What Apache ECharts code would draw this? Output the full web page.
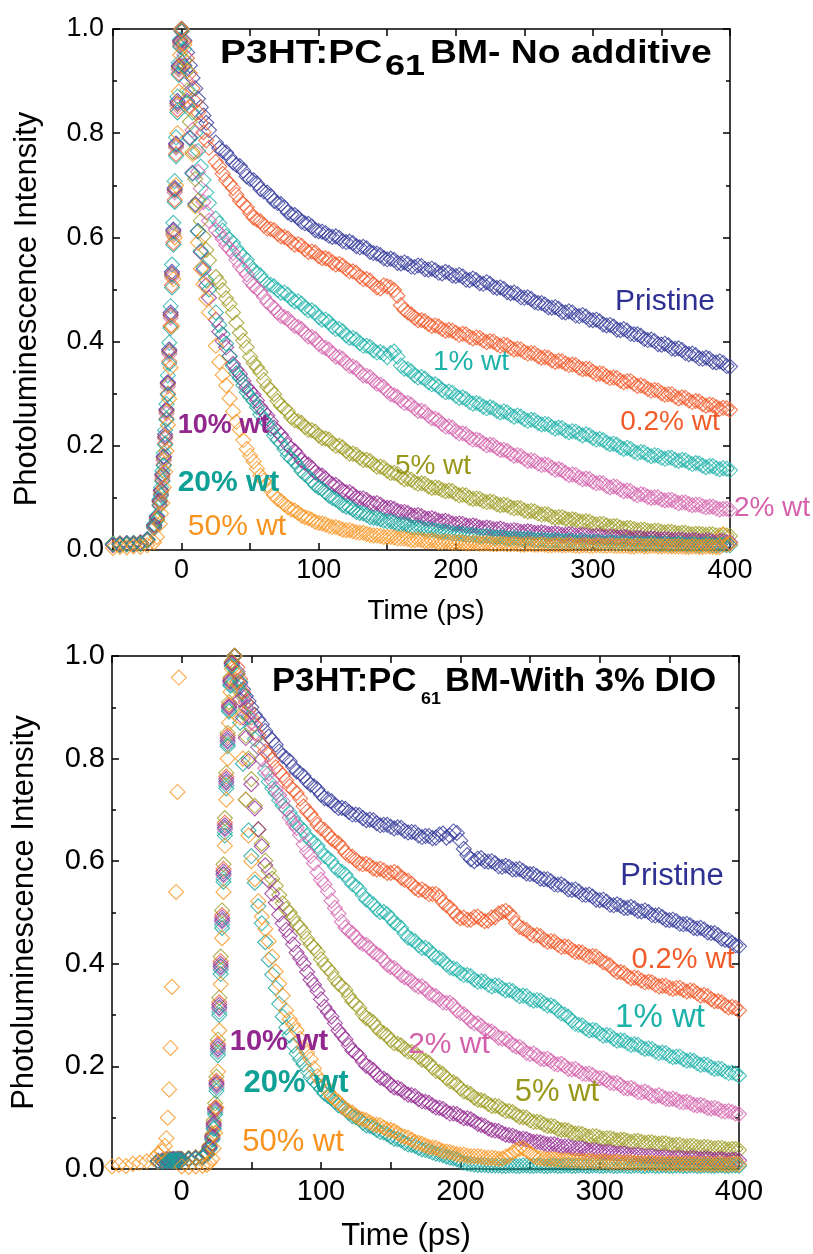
<!DOCTYPE html>
<html>
<head>
<meta charset="utf-8">
<script src="https://cdn.jsdelivr.net/npm/echarts@6.0.0/dist/echarts.min.js"></script>
<style>
  html, body { margin: 0; padding: 0; background: #fff; }
  #chart { width: 813px; height: 1254px; }
</style>
</head>
<body>
<div id="chart"></div>
<script>
// ---- top panel: no additive ----
const topTime = [
  -50,-45,-40,-35,-30,-25,-20,-18,
  -16,-15,-14,-13,-12,-11,-10,-9,-8,-7,-6,-5,-4,-3,-2,-1,0,
  2,4,6,8,10,12,14,16,18,20,
  25,30,35,40,45,50,55,60,65,70,
  75,80,85,90,95,100,105,110,115,120,
  125,130,135,140,145,150,155,160,165,170,
  175,180,185,190,195,200,205,210,215,220,
  225,230,235,240,245,250,255,260,265,270,
  275,280,285,290,295,300,305,310,315,320,
  325,330,335,340,345,350,355,360,365,370,
  375,380,385,390,395,400
];
// in-between samples of the decay tails
const topTimeHalf = [
  27.5,32.5,37.5,42.5,47.5,52.5,57.5,62.5,67.5,72.5,
  77.5,82.5,87.5,92.5,97.5,102.5,107.5,112.5,117.5,122.5,
  127.5,132.5,137.5,142.5,147.5,152.5,157.5,162.5,167.5,172.5,
  177.5,182.5,187.5,192.5,197.5,202.5,207.5,212.5,217.5,222.5,
  227.5,232.5,237.5,242.5,247.5,252.5,257.5,262.5,267.5,272.5,
  277.5,282.5,287.5,292.5,297.5,302.5,307.5,312.5,317.5,322.5,
  327.5,332.5,337.5,342.5,347.5,352.5,357.5,362.5,367.5,372.5,
  377.5,382.5,387.5,392.5,397.5
];
const topPristine = [
  0.012,0.010,0.013,0.011,0.014,0.020,0.048,0.064,
  0.095,0.115,0.146,0.180,0.222,0.270,0.322,0.385,0.456,0.534,0.615,0.695,0.780,0.862,0.930,0.978,1.000,
  0.978,0.955,0.930,0.906,0.886,0.866,0.850,0.834,0.820,0.806,
  0.782,0.766,0.754,0.739,0.728,0.712,0.703,0.688,0.679,0.666,
  0.657,0.644,0.638,0.627,0.621,0.612,0.608,0.601,0.599,0.591,
  0.589,0.581,0.579,0.570,0.566,0.558,0.557,0.550,0.549,0.543,
  0.545,0.538,0.537,0.531,0.532,0.526,0.525,0.518,0.518,0.511,
  0.511,0.503,0.501,0.493,0.491,0.484,0.482,0.474,0.471,0.465,
  0.463,0.456,0.456,0.449,0.448,0.441,0.439,0.431,0.429,0.422,
  0.421,0.414,0.411,0.403,0.401,0.394,0.393,0.386,0.384,0.376,
  0.374,0.367,0.367,0.360,0.359,0.352
];
const topPristineHalf = [
  0.771,0.763,0.744,0.737,0.717,0.710,0.693,0.686,0.670,0.664,
  0.648,0.643,0.630,0.626,0.614,0.611,0.603,0.602,0.593,0.592,
  0.583,0.582,0.572,0.569,0.560,0.559,0.551,0.552,0.544,0.546,
  0.539,0.540,0.532,0.534,0.527,0.528,0.519,0.521,0.512,0.514,
  0.505,0.504,0.495,0.494,0.485,0.485,0.476,0.474,0.466,0.466,
  0.457,0.458,0.450,0.451,0.442,0.442,0.433,0.432,0.423,0.424,
  0.415,0.414,0.405,0.404,0.395,0.396,0.387,0.387,0.378,0.377,
  0.368,0.369,0.361,0.362,0.353
];
const top02 = [
  0.010,0.013,0.011,0.012,0.015,0.019,0.042,0.058,
  0.086,0.106,0.134,0.164,0.205,0.252,0.300,0.362,0.430,0.508,0.590,0.672,0.760,0.845,0.915,0.968,0.995,
  0.975,0.944,0.915,0.886,0.860,0.840,0.820,0.802,0.786,0.772,
  0.745,0.722,0.703,0.682,0.664,0.647,0.634,0.623,0.616,0.607,
  0.601,0.591,0.587,0.577,0.573,0.564,0.560,0.552,0.549,0.540,
  0.535,0.525,0.520,0.510,0.502,0.506,0.499,0.470,0.456,0.446,
  0.441,0.434,0.431,0.424,0.422,0.417,0.415,0.409,0.408,0.402,
  0.401,0.395,0.394,0.388,0.386,0.380,0.378,0.372,0.370,0.364,
  0.363,0.358,0.356,0.350,0.348,0.342,0.339,0.333,0.331,0.325,
  0.324,0.319,0.316,0.309,0.307,0.301,0.299,0.294,0.293,0.287,
  0.286,0.280,0.279,0.274,0.273,0.269
];
const top02Half = [
  0.736,0.710,0.695,0.671,0.658,0.638,0.631,0.617,0.614,0.602,
  0.598,0.586,0.584,0.572,0.571,0.560,0.558,0.548,0.546,0.535,
  0.532,0.520,0.517,0.504,0.508,0.504,0.488,0.461,0.452,0.441,
  0.439,0.430,0.429,0.421,0.421,0.413,0.414,0.406,0.407,0.399,
  0.400,0.392,0.393,0.385,0.385,0.377,0.377,0.369,0.369,0.361,
  0.362,0.355,0.355,0.347,0.347,0.338,0.338,0.330,0.330,0.322,
  0.324,0.315,0.314,0.306,0.306,0.298,0.299,0.291,0.292,0.284,
  0.285,0.277,0.278,0.271,0.272
];
const top1 = [
  0.011,0.012,0.010,0.014,0.012,0.021,0.050,0.066,
  0.098,0.120,0.152,0.186,0.230,0.280,0.335,0.398,0.468,0.548,0.628,0.708,0.792,0.870,0.935,0.980,1.000,
  0.962,0.920,0.880,0.840,0.800,0.766,0.736,0.710,0.686,0.666,
  0.636,0.613,0.596,0.579,0.564,0.545,0.532,0.517,0.509,0.499,
  0.494,0.482,0.477,0.465,0.460,0.447,0.442,0.429,0.424,0.412,
  0.407,0.397,0.392,0.383,0.380,0.370,0.381,0.354,0.347,0.335,
  0.332,0.322,0.318,0.307,0.304,0.296,0.293,0.284,0.282,0.275,
  0.274,0.267,0.266,0.259,0.258,0.251,0.250,0.244,0.242,0.236,
  0.235,0.229,0.228,0.223,0.222,0.215,0.213,0.206,0.204,0.197,
  0.196,0.189,0.188,0.183,0.182,0.177,0.177,0.173,0.173,0.168,
  0.167,0.162,0.161,0.157,0.157,0.153
];
const top1Half = [
  0.627,0.602,0.590,0.569,0.557,0.536,0.527,0.511,0.506,0.494,
  0.490,0.477,0.473,0.460,0.456,0.442,0.438,0.424,0.420,0.407,
  0.404,0.392,0.390,0.379,0.377,0.378,0.371,0.348,0.343,0.331,
  0.329,0.318,0.314,0.303,0.302,0.292,0.290,0.281,0.280,0.272,
  0.272,0.264,0.264,0.256,0.256,0.248,0.249,0.241,0.241,0.233,
  0.234,0.226,0.227,0.220,0.220,0.212,0.211,0.203,0.202,0.194,
  0.194,0.186,0.187,0.180,0.181,0.175,0.177,0.171,0.172,0.165,
  0.166,0.159,0.161,0.155,0.156
];
const top2 = [
  0.009,0.011,0.012,0.010,0.013,0.017,0.044,0.061,
  0.088,0.108,0.138,0.172,0.214,0.262,0.314,0.376,0.446,0.524,0.604,0.686,0.772,0.852,0.922,0.972,0.998,
  0.950,0.900,0.852,0.806,0.764,0.726,0.694,0.668,0.648,0.632,
  0.614,0.597,0.578,0.557,0.538,0.516,0.502,0.486,0.470,0.456,
  0.447,0.436,0.428,0.416,0.409,0.396,0.388,0.377,0.370,0.359,
  0.352,0.341,0.334,0.325,0.317,0.305,0.297,0.287,0.282,0.272,
  0.267,0.258,0.252,0.242,0.237,0.228,0.224,0.216,0.212,0.205,
  0.202,0.196,0.192,0.185,0.182,0.175,0.172,0.166,0.164,0.158,
  0.155,0.148,0.145,0.139,0.137,0.131,0.129,0.123,0.122,0.116,
  0.114,0.108,0.107,0.102,0.101,0.097,0.096,0.093,0.091,0.088,
  0.087,0.084,0.083,0.080,0.079,0.077
];
const top2Half = [
  0.608,0.585,0.570,0.545,0.529,0.507,0.496,0.476,0.465,0.449,
  0.444,0.430,0.424,0.410,0.405,0.390,0.385,0.371,0.367,0.353,
  0.349,0.335,0.332,0.319,0.313,0.299,0.294,0.282,0.279,0.267,
  0.265,0.253,0.249,0.237,0.235,0.224,0.222,0.212,0.210,0.201,
  0.201,0.192,0.190,0.181,0.180,0.171,0.171,0.163,0.163,0.154,
  0.153,0.144,0.144,0.136,0.136,0.128,0.128,0.120,0.121,0.113,
  0.113,0.105,0.106,0.100,0.101,0.095,0.096,0.090,0.091,0.086,
  0.087,0.082,0.083,0.078,0.079
];
const top5 = [
  0.012,0.010,0.011,0.013,0.011,0.018,0.046,0.059,
  0.092,0.112,0.142,0.174,0.216,0.266,0.318,0.380,0.450,0.528,0.608,0.690,0.775,0.856,0.925,0.975,1.000,
  0.940,0.882,0.822,0.764,0.712,0.670,0.632,0.602,0.576,0.556,
  0.524,0.499,0.472,0.436,0.402,0.371,0.351,0.326,0.307,0.286,
  0.272,0.255,0.247,0.236,0.230,0.220,0.214,0.205,0.200,0.190,
  0.185,0.177,0.173,0.165,0.160,0.152,0.148,0.140,0.137,0.130,
  0.128,0.122,0.120,0.115,0.114,0.108,0.106,0.100,0.099,0.094,
  0.093,0.088,0.087,0.082,0.081,0.076,0.075,0.070,0.069,0.064,
  0.063,0.060,0.059,0.055,0.055,0.051,0.050,0.047,0.046,0.043,
  0.042,0.040,0.039,0.037,0.037,0.035,0.035,0.033,0.033,0.031,
  0.031,0.030,0.030,0.028,0.029,0.027
];
const top5Half = [
  0.514,0.483,0.456,0.417,0.389,0.359,0.341,0.314,0.299,0.277,
  0.266,0.249,0.244,0.231,0.227,0.215,0.212,0.200,0.197,0.185,
  0.183,0.173,0.171,0.160,0.158,0.148,0.146,0.136,0.135,0.127,
  0.127,0.119,0.119,0.113,0.113,0.105,0.105,0.098,0.098,0.092,
  0.092,0.086,0.086,0.080,0.080,0.074,0.074,0.068,0.068,0.062,
  0.063,0.058,0.058,0.054,0.054,0.049,0.050,0.045,0.046,0.041,
  0.042,0.038,0.039,0.036,0.037,0.034,0.035,0.032,0.033,0.030,
  0.031,0.029,0.030,0.028,0.028
];
const top10 = [
  0.010,0.011,0.013,0.012,0.014,0.020,0.047,0.063,
  0.094,0.114,0.144,0.178,0.218,0.268,0.320,0.382,0.452,0.530,0.612,0.692,0.778,0.858,0.928,0.976,1.000,
  0.930,0.862,0.792,0.724,0.664,0.612,0.572,0.538,0.508,0.484,
  0.442,0.401,0.372,0.346,0.325,0.305,0.287,0.265,0.247,0.227,
  0.212,0.195,0.182,0.167,0.157,0.145,0.137,0.126,0.120,0.111,
  0.107,0.099,0.096,0.089,0.087,0.081,0.079,0.073,0.071,0.066,
  0.065,0.060,0.059,0.055,0.054,0.050,0.050,0.046,0.046,0.042,
  0.042,0.040,0.039,0.037,0.037,0.035,0.035,0.033,0.033,0.031,
  0.031,0.029,0.030,0.028,0.028,0.026,0.027,0.025,0.025,0.024,
  0.024,0.022,0.023,0.021,0.022,0.020,0.021,0.019,0.020,0.018,
  0.019,0.017,0.018,0.016,0.017,0.015
];
const top10Half = [
  0.419,0.389,0.357,0.338,0.313,0.298,0.274,0.258,0.235,0.221,
  0.201,0.190,0.172,0.164,0.149,0.143,0.130,0.125,0.114,0.111,
  0.101,0.099,0.091,0.090,0.082,0.081,0.075,0.073,0.067,0.067,
  0.061,0.061,0.056,0.056,0.051,0.051,0.047,0.047,0.043,0.043,
  0.040,0.041,0.037,0.038,0.035,0.036,0.033,0.034,0.031,0.032,
  0.029,0.030,0.028,0.029,0.026,0.027,0.025,0.026,0.024,0.025,
  0.022,0.023,0.021,0.022,0.020,0.021,0.019,0.020,0.018,0.019,
  0.017,0.018,0.016,0.017,0.015
];
const top20 = [
  0.011,0.010,0.012,0.011,0.013,0.019,0.043,0.057,
  0.085,0.104,0.132,0.162,0.202,0.250,0.298,0.358,0.426,0.504,0.586,0.668,0.756,0.840,0.912,0.966,0.996,
  0.928,0.858,0.790,0.722,0.662,0.612,0.574,0.542,0.518,0.500,
  0.456,0.414,0.372,0.339,0.316,0.294,0.274,0.250,0.233,0.211,
  0.194,0.175,0.161,0.145,0.133,0.120,0.111,0.100,0.092,0.083,
  0.078,0.071,0.067,0.062,0.059,0.055,0.053,0.049,0.047,0.043,
  0.042,0.039,0.038,0.035,0.034,0.031,0.031,0.029,0.028,0.026,
  0.026,0.024,0.024,0.022,0.022,0.021,0.021,0.019,0.019,0.018,
  0.018,0.017,0.017,0.016,0.016,0.015,0.015,0.014,0.014,0.013,
  0.013,0.013,0.012,0.012,0.012,0.011,0.011,0.011,0.011,0.010,
  0.010,0.010,0.010,0.009,0.010,0.009
];
const top20Half = [
  0.432,0.396,0.353,0.330,0.303,0.286,0.260,0.244,0.220,0.205,
  0.182,0.170,0.151,0.141,0.125,0.117,0.104,0.097,0.086,0.082,
  0.073,0.070,0.063,0.061,0.056,0.055,0.050,0.049,0.044,0.043,
  0.040,0.039,0.036,0.035,0.032,0.032,0.029,0.029,0.026,0.027,
  0.024,0.025,0.022,0.023,0.021,0.022,0.019,0.020,0.018,0.019,
  0.017,0.018,0.016,0.017,0.015,0.016,0.014,0.015,0.013,0.014,
  0.012,0.013,0.011,0.013,0.011,0.012,0.010,0.012,0.010,0.011,
  0.009,0.011,0.009,0.010,0.009
];
const top50 = [
  0.004,0.006,0.005,0.007,0.006,0.009,0.015,0.025,
  0.050,0.070,0.090,0.120,0.150,0.190,0.240,0.290,0.350,0.430,0.520,0.600,0.700,0.800,0.880,0.950,1.000,
  0.970,0.920,0.850,0.760,0.660,0.590,0.540,0.510,0.482,0.456,
  0.392,0.336,0.291,0.246,0.211,0.181,0.156,0.133,0.114,0.098,
  0.088,0.078,0.071,0.063,0.058,0.052,0.049,0.044,0.042,0.038,
  0.036,0.033,0.031,0.028,0.027,0.025,0.024,0.022,0.021,0.019,
  0.019,0.017,0.017,0.015,0.015,0.014,0.014,0.013,0.013,0.012,
  0.012,0.011,0.012,0.011,0.011,0.010,0.011,0.010,0.010,0.009,
  0.010,0.009,0.009,0.008,0.009,0.008,0.009,0.008,0.008,0.008,
  0.008,0.007,0.008,0.007,0.008,0.007,0.007,0.007,0.007,0.006,
  0.007,0.006,0.007,0.006,0.030,0.012
];
const top50Half = [
  0.361,0.316,0.266,0.231,0.194,0.170,0.143,0.125,0.105,0.094,
  0.082,0.076,0.066,0.061,0.054,0.051,0.046,0.044,0.039,0.038,
  0.034,0.033,0.029,0.028,0.025,0.025,0.022,0.022,0.019,0.020,
  0.017,0.018,0.015,0.016,0.014,0.015,0.013,0.014,0.012,0.013,
  0.011,0.012,0.011,0.012,0.010,0.011,0.010,0.011,0.009,0.010,
  0.009,0.010,0.008,0.009,0.008,0.009,0.008,0.009,0.008,0.008,
  0.007,0.008,0.007,0.008,0.007,0.008,0.007,0.007,0.006,0.007,
  0.006,0.007,0.006,0.006,0.010
];

// ---- bottom panel: with 3% DIO ----
const botTime = [
  -50,-45,-40,-35,-30,-25,-20,-17,-14,
  -12,-11,-10,-9,-8,-7,-6,-5,-4,-3,-2,-1,0,
  5,10,15,18,20,22,
  23,24,25,26,27,28,29,30,31,32,33,34,35,36,
  38,40,42,44,46,48,50,
  55,60,65,70,75,80,85,90,95,100,
  105,110,115,120,125,130,135,140,145,150,
  155,160,165,170,175,180,185,190,195,200,
  205,210,215,220,225,230,235,240,245,250,
  255,260,265,270,275,280,285,290,295,300,
  305,310,315,320,325,330,335,340,345,350,
  355,360,365,370,375,380,385,390,395,400
];
const botTimeHalf = [
  52.5,57.5,62.5,67.5,72.5,77.5,82.5,87.5,92.5,97.5,
  102.5,107.5,112.5,117.5,122.5,127.5,132.5,137.5,142.5,147.5,
  152.5,157.5,162.5,167.5,172.5,177.5,182.5,187.5,192.5,197.5,
  202.5,207.5,212.5,217.5,222.5,227.5,232.5,237.5,242.5,247.5,
  252.5,257.5,262.5,267.5,272.5,277.5,282.5,287.5,292.5,297.5,
  302.5,307.5,312.5,317.5,322.5,327.5,332.5,337.5,342.5,347.5,
  352.5,357.5,362.5,367.5,372.5,377.5,382.5,387.5,392.5,397.5
];
const botPristine = [
  null,null,null,null,null,null,null,0.015,0.016,
  0.017,0.016,0.018,0.017,0.016,0.018,0.017,0.019,0.018,0.017,0.019,0.018,0.019,
  0.020,0.021,0.024,0.030,0.042,0.062,
  0.085,0.115,0.165,0.235,0.315,0.395,0.485,0.575,0.665,0.755,0.835,0.900,0.950,0.985,
  1.000,0.965,0.948,0.935,0.922,0.912,0.900,
  0.876,0.854,0.836,0.814,0.801,0.784,0.771,0.756,0.746,0.730,
  0.721,0.709,0.704,0.696,0.691,0.684,0.681,0.674,0.671,0.667,
  0.666,0.659,0.657,0.650,0.649,0.645,0.652,0.646,0.658,0.640,
  0.612,0.600,0.606,0.599,0.596,0.589,0.589,0.584,0.581,0.575,
  0.571,0.565,0.561,0.554,0.551,0.544,0.541,0.534,0.531,0.524,
  0.521,0.514,0.513,0.509,0.508,0.502,0.501,0.494,0.491,0.485,
  0.483,0.477,0.475,0.469,0.467,0.460,0.456,0.447,0.441,0.434
];
const botPristineHalf = [
  0.885,0.867,0.843,0.827,0.805,0.795,0.775,0.766,0.749,0.740,
  0.723,0.717,0.704,0.702,0.691,0.690,0.680,0.680,0.670,0.671,
  0.664,0.665,0.656,0.656,0.647,0.649,0.646,0.654,0.650,0.655,
  0.624,0.604,0.605,0.600,0.600,0.590,0.591,0.584,0.585,0.576,
  0.575,0.566,0.565,0.555,0.555,0.545,0.545,0.535,0.535,0.525,
  0.525,0.515,0.516,0.509,0.511,0.503,0.504,0.495,0.495,0.486,
  0.486,0.478,0.478,0.470,0.470,0.461,0.460,0.449,0.446,0.436
];
const bot02 = [
  null,null,null,null,null,null,null,0.014,0.017,
  0.016,0.018,0.017,0.016,0.019,0.017,0.018,0.016,0.019,0.018,0.017,0.020,0.018,
  0.019,0.022,0.023,0.032,0.045,0.065,
  0.090,0.120,0.172,0.244,0.325,0.405,0.495,0.585,0.675,0.765,0.845,0.905,0.955,0.988,
  1.000,0.978,0.955,0.930,0.910,0.895,0.880,
  0.846,0.814,0.797,0.774,0.758,0.739,0.722,0.697,0.682,0.664,
  0.653,0.639,0.627,0.611,0.602,0.594,0.592,0.584,0.582,0.577,
  0.576,0.564,0.556,0.544,0.541,0.536,0.531,0.514,0.502,0.489,
  0.486,0.491,0.487,0.484,0.491,0.501,0.499,0.479,0.469,0.459,
  0.456,0.447,0.444,0.437,0.434,0.427,0.423,0.417,0.415,0.409,
  0.401,0.389,0.384,0.376,0.373,0.367,0.365,0.359,0.357,0.353,
  0.353,0.349,0.348,0.342,0.339,0.331,0.327,0.319,0.316,0.309
];
const bot02Half = [
  0.866,0.828,0.808,0.783,0.768,0.746,0.733,0.707,0.692,0.671,
  0.661,0.644,0.635,0.617,0.609,0.596,0.595,0.586,0.585,0.577,
  0.579,0.568,0.562,0.548,0.545,0.536,0.536,0.520,0.510,0.493,
  0.490,0.486,0.492,0.483,0.490,0.498,0.503,0.491,0.472,0.466,
  0.455,0.454,0.443,0.443,0.433,0.433,0.423,0.422,0.414,0.414,
  0.403,0.397,0.384,0.382,0.372,0.372,0.364,0.364,0.356,0.357,
  0.351,0.353,0.346,0.347,0.338,0.337,0.327,0.325,0.315,0.314
];
const bot1 = [
  null,null,null,null,null,null,null,0.016,0.015,
  0.018,0.017,0.016,0.019,0.018,0.016,0.019,0.017,0.018,0.020,0.018,0.017,0.019,
  0.021,0.020,0.025,0.031,0.040,0.058,
  0.080,0.110,0.158,0.228,0.306,0.388,0.476,0.566,0.656,0.748,0.828,0.895,0.945,0.982,
  1.000,0.970,0.950,0.925,0.900,0.880,0.860,
  0.822,0.772,0.742,0.719,0.702,0.684,0.666,0.649,0.636,0.619,
  0.606,0.589,0.579,0.564,0.551,0.534,0.521,0.506,0.501,0.489,
  0.476,0.459,0.448,0.436,0.431,0.419,0.411,0.399,0.391,0.382,
  0.378,0.369,0.366,0.359,0.358,0.352,0.349,0.341,0.338,0.331,
  0.329,0.323,0.319,0.309,0.301,0.289,0.281,0.274,0.271,0.264,
  0.261,0.254,0.251,0.245,0.243,0.237,0.235,0.229,0.227,0.221,
  0.219,0.214,0.212,0.206,0.204,0.198,0.196,0.190,0.188,0.182
];
const bot1Half = [
  0.838,0.799,0.755,0.733,0.708,0.695,0.673,0.660,0.640,0.630,
  0.610,0.600,0.582,0.574,0.555,0.545,0.525,0.516,0.501,0.497,
  0.480,0.470,0.451,0.444,0.431,0.427,0.413,0.407,0.393,0.389,
  0.378,0.376,0.365,0.365,0.356,0.357,0.348,0.347,0.337,0.337,
  0.328,0.328,0.319,0.316,0.303,0.297,0.283,0.280,0.270,0.270,
  0.260,0.260,0.250,0.250,0.242,0.242,0.234,0.234,0.226,0.226,
  0.218,0.219,0.211,0.211,0.203,0.203,0.195,0.195,0.187,0.186
];
const bot2 = [
  null,null,null,null,null,null,null,0.015,0.017,
  0.016,0.019,0.018,0.017,0.016,0.019,0.018,0.017,0.016,0.019,0.018,0.019,0.017,
  0.020,0.022,0.024,0.029,0.041,0.060,
  0.083,0.113,0.162,0.232,0.312,0.392,0.482,0.572,0.662,0.752,0.832,0.898,0.948,0.984,
  1.000,0.970,0.945,0.920,0.900,0.885,0.870,
  0.822,0.781,0.757,0.729,0.701,0.674,0.651,0.619,0.596,0.564,
  0.541,0.509,0.482,0.464,0.452,0.439,0.431,0.419,0.407,0.394,
  0.386,0.374,0.366,0.356,0.351,0.339,0.331,0.324,0.319,0.304,
  0.296,0.284,0.279,0.269,0.263,0.254,0.249,0.239,0.233,0.224,
  0.221,0.214,0.211,0.204,0.201,0.194,0.191,0.185,0.183,0.177,
  0.173,0.167,0.164,0.157,0.155,0.149,0.148,0.142,0.141,0.136,
  0.135,0.130,0.129,0.124,0.123,0.118,0.117,0.112,0.111,0.107
];
const bot2Half = [
  0.849,0.799,0.771,0.741,0.717,0.685,0.665,0.633,0.610,0.578,
  0.555,0.523,0.498,0.471,0.460,0.443,0.437,0.423,0.415,0.398,
  0.392,0.378,0.372,0.359,0.356,0.343,0.337,0.325,0.324,0.309,
  0.302,0.288,0.284,0.272,0.268,0.256,0.254,0.242,0.238,0.226,
  0.225,0.215,0.215,0.205,0.205,0.195,0.195,0.186,0.186,0.178,
  0.177,0.168,0.168,0.158,0.158,0.150,0.151,0.143,0.144,0.137,
  0.137,0.131,0.131,0.125,0.125,0.119,0.119,0.113,0.113,0.108
];
const bot5 = [
  null,null,null,null,null,null,null,0.014,0.016,
  0.017,0.018,0.016,0.018,0.017,0.019,0.016,0.018,0.017,0.019,0.020,0.018,0.019,
  0.021,0.023,0.025,0.033,0.046,0.068,
  0.095,0.128,0.180,0.252,0.334,0.414,0.504,0.594,0.684,0.772,0.850,0.910,0.958,0.990,
  1.000,0.965,0.930,0.890,0.845,0.800,0.760,
  0.662,0.601,0.566,0.534,0.507,0.489,0.471,0.449,0.432,0.409,
  0.391,0.371,0.356,0.337,0.321,0.302,0.291,0.276,0.265,0.251,
  0.244,0.234,0.228,0.219,0.211,0.198,0.189,0.177,0.169,0.157,
  0.149,0.139,0.134,0.127,0.123,0.117,0.113,0.106,0.101,0.095,
  0.092,0.087,0.084,0.078,0.076,0.071,0.069,0.065,0.064,0.061,
  0.060,0.058,0.057,0.055,0.054,0.053,0.052,0.050,0.050,0.048,
  0.047,0.045,0.045,0.043,0.043,0.041,0.041,0.039,0.039,0.037
];
const bot5Half = [
  0.708,0.634,0.581,0.552,0.518,0.500,0.478,0.462,0.438,0.423,
  0.398,0.383,0.361,0.349,0.327,0.314,0.294,0.286,0.268,0.260,
  0.245,0.241,0.229,0.226,0.213,0.207,0.191,0.185,0.171,0.165,
  0.151,0.146,0.135,0.132,0.123,0.122,0.113,0.111,0.102,0.100,
  0.092,0.091,0.084,0.083,0.076,0.075,0.069,0.068,0.063,0.064,
  0.059,0.060,0.056,0.057,0.053,0.055,0.051,0.052,0.049,0.050,
  0.046,0.047,0.044,0.045,0.042,0.043,0.040,0.041,0.038,0.039
];
const bot10 = [
  null,null,null,null,null,null,null,0.016,0.015,
  0.017,0.019,0.018,0.016,0.017,0.018,0.019,0.017,0.016,0.018,0.019,0.017,0.018,
  0.019,0.021,0.023,0.030,0.043,0.064,
  0.088,0.118,0.168,0.240,0.320,0.400,0.490,0.580,0.670,0.760,0.840,0.902,0.952,0.986,
  1.000,0.950,0.915,0.880,0.840,0.795,0.750,
  0.662,0.592,0.537,0.496,0.466,0.438,0.411,0.384,0.359,0.331,
  0.306,0.284,0.261,0.241,0.226,0.209,0.198,0.184,0.176,0.164,
  0.158,0.149,0.144,0.136,0.131,0.124,0.119,0.112,0.108,0.103,
  0.099,0.093,0.086,0.079,0.075,0.070,0.066,0.062,0.059,0.055,
  0.053,0.050,0.048,0.046,0.044,0.042,0.040,0.038,0.036,0.034,
  0.033,0.031,0.030,0.028,0.027,0.026,0.025,0.024,0.023,0.022,
  0.022,0.021,0.021,0.020,0.020,0.019,0.019,0.018,0.018,0.017
];
const bot10Half = [
  0.703,0.629,0.562,0.519,0.479,0.454,0.422,0.400,0.369,0.347,
  0.316,0.297,0.270,0.253,0.231,0.220,0.201,0.193,0.178,0.172,
  0.159,0.155,0.145,0.142,0.132,0.129,0.120,0.117,0.108,0.107,
  0.099,0.097,0.088,0.084,0.076,0.074,0.067,0.065,0.059,0.058,
  0.053,0.052,0.048,0.048,0.044,0.044,0.040,0.040,0.036,0.036,
  0.033,0.033,0.030,0.030,0.027,0.027,0.025,0.025,0.023,0.023,
  0.021,0.022,0.020,0.021,0.019,0.020,0.018,0.019,0.017,0.018
];
const bot20 = [
  null,null,null,null,null,null,null,0.015,0.014,
  0.016,0.017,0.015,0.018,0.016,0.017,0.015,0.018,0.016,0.017,0.018,0.016,0.017,
  0.018,0.020,0.022,0.028,0.039,0.057,
  0.078,0.106,0.152,0.222,0.300,0.380,0.470,0.560,0.650,0.742,0.824,0.892,0.942,0.980,
  1.000,0.940,0.870,0.790,0.720,0.660,0.610,
  0.512,0.442,0.379,0.322,0.276,0.241,0.214,0.191,0.171,0.156,
  0.142,0.131,0.121,0.109,0.101,0.090,0.084,0.076,0.071,0.063,
  0.058,0.051,0.047,0.041,0.037,0.032,0.029,0.024,0.021,0.015,
  0.011,0.009,0.008,0.007,0.007,0.006,0.007,0.006,0.007,0.006,
  0.007,0.006,0.007,0.006,0.007,0.006,0.007,0.006,0.007,0.006,
  0.007,0.006,0.007,0.006,0.007,0.006,0.007,0.006,0.007,0.006,
  0.007,0.006,0.007,0.006,0.007,0.006,0.007,0.006,0.007,0.006
];
const bot20Half = [
  0.558,0.479,0.408,0.353,0.297,0.261,0.225,0.204,0.179,0.165,
  0.147,0.138,0.124,0.117,0.103,0.097,0.085,0.081,0.072,0.068,
  0.059,0.056,0.048,0.045,0.038,0.035,0.030,0.027,0.022,0.019,
  0.012,0.010,0.008,0.008,0.007,0.007,0.006,0.007,0.006,0.007,
  0.006,0.007,0.006,0.007,0.006,0.007,0.006,0.007,0.006,0.007,
  0.006,0.007,0.006,0.007,0.006,0.007,0.006,0.007,0.006,0.007,
  0.006,0.007,0.006,0.007,0.006,0.007,0.006,0.007,0.006,0.007
];
const bot50 = [
  0.005,0.008,0.006,0.010,0.012,0.015,0.020,0.030,0.035,
  0.045,0.060,0.100,0.155,0.236,0.355,null,null,0.540,0.735,0.958,null,0.005,
  0.004,0.005,0.006,0.008,0.012,0.020,
  0.040,0.070,0.120,0.190,0.270,0.360,0.450,0.540,0.630,0.720,0.800,0.870,0.930,0.975,
  1.000,0.950,0.880,0.800,0.720,0.650,0.600,
  0.522,0.468,0.414,0.361,0.309,0.281,0.254,0.226,0.196,0.171,
  0.151,0.136,0.123,0.113,0.104,0.097,0.091,0.086,0.081,0.076,
  0.070,0.063,0.057,0.051,0.046,0.042,0.038,0.034,0.031,0.028,
  0.026,0.025,0.024,0.022,0.021,0.020,0.026,0.036,0.040,0.031,
  0.022,0.020,0.019,0.018,0.017,0.016,0.016,0.015,0.015,0.014,
  0.014,0.013,0.013,0.013,0.012,0.012,0.012,0.011,0.011,0.011,
  0.011,0.010,0.010,0.010,0.010,0.009,0.010,0.009,0.010,0.009
];
const bot50Half = [
  0.565,0.492,0.444,0.385,0.338,0.292,0.270,0.237,0.214,0.181,
  0.163,0.142,0.131,0.116,0.110,0.099,0.095,0.087,0.085,0.077,
  0.074,0.065,0.061,0.053,0.049,0.043,0.041,0.035,0.033,0.029,
  0.028,0.025,0.025,0.022,0.022,0.020,0.024,0.032,0.039,0.036,
  0.026,0.021,0.019,0.019,0.017,0.017,0.016,0.015,0.016,0.014,
  0.015,0.013,0.014,0.012,0.013,0.012,0.011,0.012,0.011,0.010,
  0.011,0.010,0.011,0.010,0.009,0.010,0.009,0.010,0.009,0.010
];

const xTicks = [0, 100, 200, 300, 400];

const FONT = '"Liberation Sans", Arial, Helvetica, sans-serif';
const COL = {
  pristine: '#353b9b', w02: '#f15a2b', w1: '#22b3ab', w2: '#d565ae',
  w5: '#9c9b22', w10: '#952b92', w20: '#14a39b', w50: '#f7941e'
};
const TXT = {
  pristine: '#2e3192', w02: '#f15a29', w1: '#1db2a9', w2: '#d560ab',
  w5: '#98971a', w10: '#92278f', w20: '#0fa096', w50: '#f7931e'
};

function check(list, times, label) {
  list.forEach((a, i) => {
    if (a.length !== times.length) throw new Error(label + ' ' + i + ' length ' + a.length + ' != ' + times.length);
  });
}
check([topPristine, top02, top1, top2, top5, top10, top20, top50], topTime, 'top');
check([topPristineHalf, top02Half, top1Half, top2Half, top5Half, top10Half, top20Half, top50Half], topTimeHalf, 'topHalf');
check([botPristine, bot02, bot1, bot2, bot5, bot10, bot20, bot50], botTime, 'bot');
check([botPristineHalf, bot02Half, bot1Half, bot2Half, bot5Half, bot10Half, bot20Half, bot50Half], botTimeHalf, 'botHalf');

function scatter(name, times, vals, timesHalf, valsHalf, color, idx) {
  const data = [];
  times.forEach((t, i) => { if (vals[i] !== null) data.push([t, vals[i]]); });
  timesHalf.forEach((t, i) => { data.push([t, valsHalf[i]]); });
  data.sort((a, b) => a[0] - b[0]);
  return {
    type: 'scatter', name, xAxisIndex: idx, yAxisIndex: idx, data,
    symbol: 'diamond', symbolSize: 15, clip: true, silent: true,
    itemStyle: { color: 'rgba(255,255,255,0)', borderColor: color, borderWidth: 1.1 }
  };
}

const black = { color: '#000', width: 1.5 };

function xAxisPair(gi, fs, margin, nameFs, nameGap, namePad) {
  const base = {
    gridIndex: gi, type: 'value', min: -50, max: 400, interval: 50,
    axisLine: { onZero: false, lineStyle: black },
    axisTick: { inside: true, length: 7, lineStyle: black },
    splitLine: { show: false }
  };
  return [
    Object.assign({}, base, {
      position: 'bottom', name: 'Time (ps)', nameLocation: 'middle', nameGap,
      nameTextStyle: { fontSize: nameFs, color: '#000', fontFamily: FONT, padding: namePad },
      axisLabel: {
        fontSize: fs, color: '#000', fontFamily: FONT, margin,
        formatter: v => (xTicks.indexOf(v) >= 0 ? String(v) : '')
      }
    }),
    Object.assign({}, base, { position: 'top', axisLabel: { show: false } })
  ];
}

function yAxisPair(gi, fs, margin, nameFs, nameGap, namePad) {
  const base = {
    gridIndex: gi, type: 'value', min: 0, max: 1, interval: 0.2,
    axisLine: { onZero: false, lineStyle: black },
    axisTick: { inside: true, length: 7, lineStyle: black },
    minorTick: { show: true, splitNumber: 2, length: 4, lineStyle: black },
    splitLine: { show: false }, minorSplitLine: { show: false }
  };
  return [
    Object.assign({}, base, {
      position: 'left', name: 'Photoluminescence Intensity', nameLocation: 'middle',
      nameGap, nameRotate: 90,
      nameTextStyle: { fontSize: nameFs, color: '#000', fontFamily: FONT, padding: namePad },
      axisLabel: { fontSize: fs, color: '#000', fontFamily: FONT, margin, formatter: v => v.toFixed(1) }
    }),
    Object.assign({}, base, { position: 'right', axisLabel: { show: false } })
  ];
}

function txt(text, x, y, size, color, bold, scaleX) {
  return {
    type: 'text', x, y, z: 100, scaleX: scaleX || 1, silent: true,
    style: {
      text, fill: color, fontSize: size, fontFamily: FONT, fontWeight: bold ? 'bold' : 'normal',
      align: scaleX ? 'left' : 'center', verticalAlign: 'middle',
      textAlign: scaleX ? 'left' : 'center', textVerticalAlign: 'middle'
    }
  };
}

const graphics = [
  // panel titles (subscript drawn as its own smaller, lowered piece)
  txt('P3HT:PC', 220, 53.5, 33, '#000', true, 1.18),
  txt('61', 385, 66.5, 30, '#000', true, 1.2),
  txt('BM- No additive', 430, 53.5, 33, '#000', true, 1.13),
  txt('P3HT:PC', 272, 681.5, 33, '#000', true, 1.05),
  txt('61', 421, 699, 17, '#000', true, 1.05),
  txt('BM-With 3% DIO', 445, 681.5, 33, '#000', true, 1.05),
  // top panel labels
  txt('Pristine', 665, 302, 30, TXT.pristine),
  txt('1% wt', 471, 362, 28, TXT.w1),
  txt('0.2% wt', 670, 422, 28, TXT.w02),
  txt('2% wt', 772, 508, 28, TXT.w2),
  txt('5% wt', 433, 466, 28, TXT.w5),
  txt('10% wt', 223.5, 426, 27, TXT.w10, true),
  txt('20% wt', 228.5, 483, 30, TXT.w20, true),
  txt('50% wt', 237, 527, 30, TXT.w50),
  // bottom panel labels
  txt('Pristine', 672, 876, 31, TXT.pristine),
  txt('0.2% wt', 683, 960, 29, TXT.w02),
  txt('1% wt', 660, 1018, 33, TXT.w1),
  txt('2% wt', 449, 1045, 30, TXT.w2),
  txt('5% wt', 557, 1092, 31, TXT.w5),
  txt('10% wt', 279, 1042, 29, TXT.w10, true),
  txt('20% wt', 296, 1083, 31, TXT.w20, true),
  txt('50% wt', 293, 1142, 31, TXT.w50)
];

const chart = echarts.init(document.getElementById('chart'), null, { renderer: 'canvas' });
chart.setOption({
  animation: false,
  backgroundColor: '#fff',
  textStyle: { fontFamily: FONT },
  grid: [
    { left: 113, top: 29, width: 617, height: 521 },
    { left: 112, top: 656, width: 627, height: 513 }
  ],
  xAxis: [].concat(
    xAxisPair(0, 27, 7, 28, 47, [0, 0, 0, 9]),
    xAxisPair(1, 29, 8, 31, 52, [0, 39, 0, 0])
  ),
  yAxis: [].concat(
    yAxisPair(0, 27, 9, 31, 70, [0, 39, 0, 0]),
    yAxisPair(1, 29, 7, 31, 72, [0, 0, 0, 0])
  ),
  graphic: graphics,
  series: [
    scatter('Pristine', topTime, topPristine, topTimeHalf, topPristineHalf, COL.pristine, 0),
    scatter('0.2% wt', topTime, top02, topTimeHalf, top02Half, COL.w02, 0),
    scatter('1% wt', topTime, top1, topTimeHalf, top1Half, COL.w1, 0),
    scatter('2% wt', topTime, top2, topTimeHalf, top2Half, COL.w2, 0),
    scatter('5% wt', topTime, top5, topTimeHalf, top5Half, COL.w5, 0),
    scatter('10% wt', topTime, top10, topTimeHalf, top10Half, COL.w10, 0),
    scatter('20% wt', topTime, top20, topTimeHalf, top20Half, COL.w20, 0),
    scatter('50% wt', topTime, top50, topTimeHalf, top50Half, COL.w50, 0),
    scatter('Pristine', botTime, botPristine, botTimeHalf, botPristineHalf, COL.pristine, 2),
    scatter('0.2% wt', botTime, bot02, botTimeHalf, bot02Half, COL.w02, 2),
    scatter('1% wt', botTime, bot1, botTimeHalf, bot1Half, COL.w1, 2),
    scatter('2% wt', botTime, bot2, botTimeHalf, bot2Half, COL.w2, 2),
    scatter('5% wt', botTime, bot5, botTimeHalf, bot5Half, COL.w5, 2),
    scatter('10% wt', botTime, bot10, botTimeHalf, bot10Half, COL.w10, 2),
    scatter('20% wt', botTime, bot20, botTimeHalf, bot20Half, COL.w20, 2),
    scatter('50% wt', botTime, bot50, botTimeHalf, bot50Half, COL.w50, 2)
  ]
});
</script>
</body>
</html>
